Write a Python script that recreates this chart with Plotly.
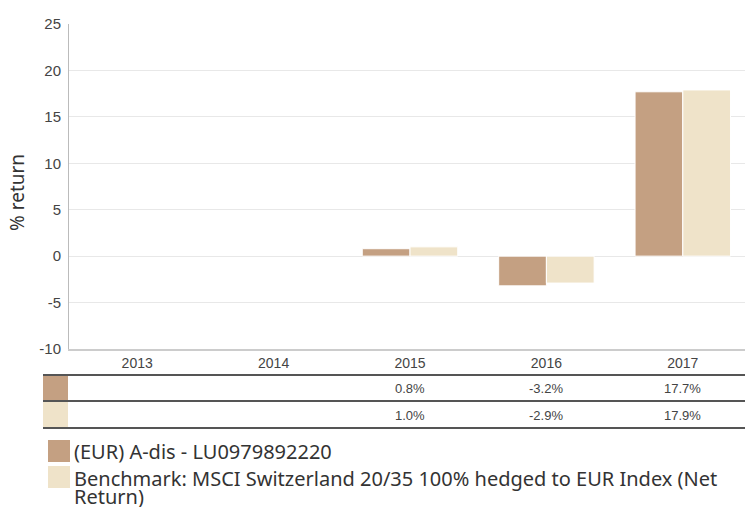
import plotly.graph_objects as go

years = ["2013", "2014", "2015", "2016", "2017"]
fund_name = "(EUR) A-dis - LU0979892220"
bench_name = "Benchmark: MSCI Switzerland 20/35 100% hedged to EUR Index (Net Return)"
fund_values = [None, None, 0.8, -3.2, 17.7]
bench_values = [None, None, 1.0, -2.9, 17.9]
y_ticks = [-10, -5, 0, 5, 10, 15, 20, 25]
y_tick_labels = ["-10", "-5", "0", "5", "10", "15", "20", "25"]

FUND_COLOR = "#C4A082"
BENCH_COLOR = "#EFE3C9"
W, H = 745, 507
L, R, T, B = 69, 0, 24, 158
PW, PH = W - L - R, H - T - B

def px_x(px):
    return (px - L) / PW

def px_y(py):
    return (H - B - py) / PH

fig = go.Figure()
fig.add_trace(go.Bar(x=years, y=fund_values, name=fund_name,
                     marker=dict(color=FUND_COLOR, line=dict(color="white", width=1))))
fig.add_trace(go.Bar(x=years, y=bench_values, name=bench_name,
                     marker=dict(color=BENCH_COLOR, line=dict(color="white", width=1))))

shapes = []
for py in [375, 401, 428]:
    shapes.append(dict(type="line", xref="paper", yref="paper", x0=px_x(43), x1=px_x(745), y0=px_y(py), y1=px_y(py),
                       line=dict(color="#555555", width=2)))
shapes.append(dict(type="rect", xref="paper", yref="paper", x0=px_x(43), x1=px_x(68), y0=px_y(400), y1=px_y(376),
                   fillcolor=FUND_COLOR, line=dict(width=0)))
shapes.append(dict(type="rect", xref="paper", yref="paper", x0=px_x(43), x1=px_x(68), y0=px_y(427), y1=px_y(402),
                   fillcolor=BENCH_COLOR, line=dict(width=0)))
shapes.append(dict(type="rect", xref="paper", yref="paper", x0=px_x(48), x1=px_x(70), y0=px_y(462), y1=px_y(440),
                   fillcolor=FUND_COLOR, line=dict(width=0)))
shapes.append(dict(type="rect", xref="paper", yref="paper", x0=px_x(48), x1=px_x(70), y0=px_y(488), y1=px_y(466),
                   fillcolor=BENCH_COLOR, line=dict(width=0)))

annotations = []
cell_font = dict(family="Liberation Sans, Arial", size=13, color="#444444")
for i, (fv, bv) in enumerate(zip(fund_values, bench_values)):
    if fv is not None:
        annotations.append(dict(x=i, xref="x", y=px_y(388), yref="paper", text=f"{fv:.1f}%", showarrow=False,
                                xanchor="center", yanchor="middle", font=cell_font))
    if bv is not None:
        annotations.append(dict(x=i, xref="x", y=px_y(415), yref="paper", text=f"{bv:.1f}%", showarrow=False,
                                xanchor="center", yanchor="middle", font=cell_font))

legend_font = dict(family="Noto Sans", size=20, color="#333333")
bench_line1, bench_line2 = bench_name.rsplit(" ", 1)
annotations.append(dict(x=px_x(72), xref="paper", y=px_y(451), yref="paper", text=fund_name, showarrow=False,
                        xanchor="left", yanchor="middle", font=legend_font))
annotations.append(dict(x=px_x(72), xref="paper", y=px_y(479), yref="paper", text=bench_line1, showarrow=False,
                        xanchor="left", yanchor="middle", font=legend_font))
annotations.append(dict(x=px_x(72), xref="paper", y=px_y(497), yref="paper", text=bench_line2, showarrow=False,
                        xanchor="left", yanchor="middle", font=legend_font))
annotations.append(dict(x=px_x(17), xref="paper", y=px_y(193), yref="paper", text="% return", showarrow=False,
                        textangle=-90, xanchor="center", yanchor="middle",
                        font=dict(family="Noto Sans", size=19, color="#333333")))

fig.update_layout(
    width=W, height=H,
    margin=dict(l=L, r=R, t=T, b=B, autoexpand=False),
    plot_bgcolor="white", paper_bgcolor="white",
    barmode="group", bargap=0.30, bargroupgap=0,
    showlegend=False,
    shapes=shapes, annotations=annotations,
    xaxis=dict(type="category", categoryorder="array", categoryarray=years, range=[-0.5, 4.456],
               automargin=False, showgrid=False, showline=True, linecolor="#cccccc", linewidth=2,
               ticks="", tickfont=dict(family="Liberation Sans, Arial", size=14, color="#444444")),
    yaxis=dict(range=[-10, 25], tickvals=y_ticks, ticktext=y_tick_labels, automargin=False,
               showgrid=True, gridcolor="#e8e8e8", gridwidth=1, ticklabelstandoff=4,
               zeroline=True, zerolinecolor="#e8e8e8", zerolinewidth=1,
               showline=True, linecolor="#bbbbbb", linewidth=1, ticks="",
               tickfont=dict(family="Liberation Sans, Arial", size=15, color="#444444")),
)

fig.write_html("out.html", config={"displayModeBar": False},
               post_script="document.body.style.margin='0';document.body.style.padding='0';")
